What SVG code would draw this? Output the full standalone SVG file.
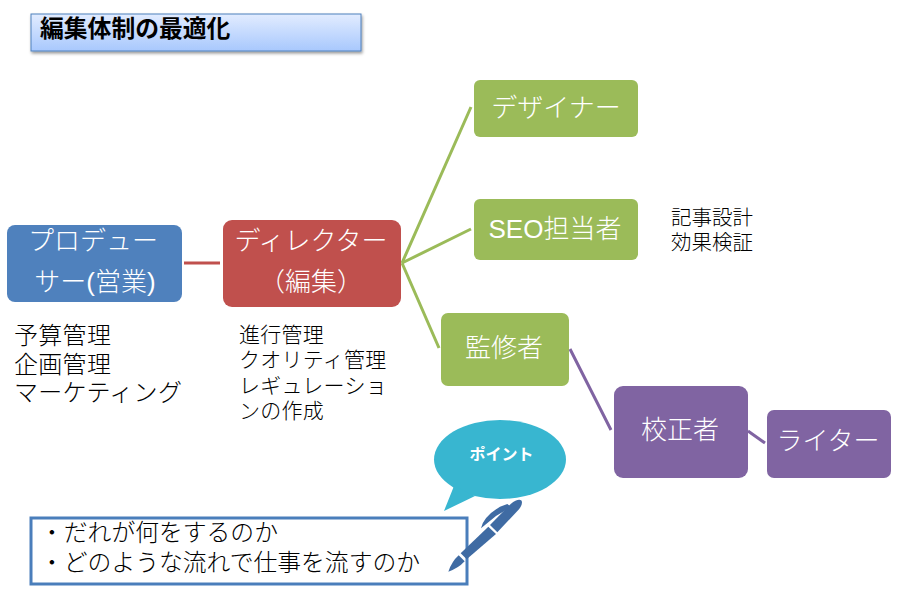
<svg xmlns="http://www.w3.org/2000/svg" width="911" height="593" viewBox="0 0 911 593">
<defs>
<linearGradient id="tg" x1="0" y1="0" x2="0" y2="1"><stop offset="0" stop-color="#e2ecff"/><stop offset="1" stop-color="#a8c8fd"/></linearGradient>
<filter id="sh" x="-5%" y="-20%" width="110%" height="150%"><feDropShadow dx="1" dy="2" stdDeviation="1.5" flood-color="#000" flood-opacity="0.4"/></filter>
</defs>
<style>
text{font-family:"Liberation Sans","Noto Sans CJK JP",sans-serif;fill:#000;font-weight:300}
.w{fill:#fff;font-size:26px;text-anchor:middle}
.s{font-size:21px;letter-spacing:.25px}
.m{font-size:24px;letter-spacing:.3px}
.n{font-size:23.800px}
.seo{font-size:20.500px}
.b{fill:#4f81bd}
.r{fill:#c0504d}
.g{fill:#9bbb59}
.p{fill:#8064a2}
.c{fill:none;stroke-width:3}
.pen{fill:#3f6ba3}
</style>
<rect width="911" height="593" fill="#fff"/>
<g id="title"><rect x="31" y="14" width="330" height="37" fill="url(#tg)" stroke="#4f81bd" filter="url(#sh)"/><text x="40" y="37" font-size="23.800" style="font-weight:bold">編集体制の最適化</text></g>
<g id="connectors">
<path class="c" stroke="#c0504d" d="M184 263H220"/>
<path class="c" stroke="#9bbb59" d="M402 263L471 107M402 263L471 229M402 263L439 348"/>
<path class="c" stroke="#8064a2" d="M570 349L611 430M748 431L765 443"/>
</g>
<g id="producer"><rect class="b" x="7" y="225" width="175" height="77" rx="8"/><text class="w" x="93" y="250">プロデュー</text><text class="w" x="95" y="291">サー(営業)</text></g>
<g id="director"><rect class="r" x="223" y="220" width="178" height="87" rx="9"/><text class="w" x="311" y="250">ディレクター</text><text class="w" x="311" y="291">（編集）</text></g>
<g id="designer"><rect class="g" x="474" y="80" width="164" height="57" rx="6"/><text class="w" x="556" y="117">デザイナー</text></g>
<g id="seo"><rect class="g" x="474" y="199" width="164" height="61" rx="6"/><text class="w" x="555" y="238">SEO担当者</text></g>
<g id="supervisor"><rect class="g" x="441" y="313" width="128" height="73" rx="7"/><text class="w" x="504" y="357">監修者</text></g>
<g id="proofreader"><rect class="p" x="614" y="386" width="134" height="92" rx="9"/><text class="w" x="680" y="439">校正者</text></g>
<g id="writer"><rect class="p" x="767" y="410" width="124" height="68" rx="7"/><text class="w" x="828" y="450">ライター</text></g>
<g id="seo-note"><text class="seo" x="671" y="225">記事設計</text><text class="seo" x="671" y="250">効果検証</text></g>
<g id="producer-note"><text class="m" x="14" y="344">予算管理</text><text class="m" x="14" y="373">企画管理</text><text class="m" x="14" y="401">マーケティング</text></g>
<g id="director-note"><text class="s" x="239" y="342">進行管理</text><text class="s" x="239" y="367">クオリティ管理</text><text class="s" x="239" y="393">レギュレーショ</text><text class="s" x="239" y="418">ンの作成</text></g>
<g id="callout"><ellipse cx="500" cy="459.500" rx="66" ry="39.500" fill="#38b6d0"/><path d="M454 486L444 511L475 496Z" fill="#38b6d0"/><text x="501.500" y="460" font-size="16" text-anchor="middle" style="fill:#fff;font-weight:bold">ポイント</text></g>
<g id="note"><rect x="31" y="518" width="436" height="66" fill="#fff" stroke="#4a7ebb" stroke-width="3"/><text class="n" x="40" y="541">・だれが何をするのか</text><text class="n" x="40" y="571">・どのような流れで仕事を流すのか</text></g>
<g id="pen" transform="translate(420 410) scale(0.3333)">
<path class="pen" d="M85 485Q95 455 116 436L134 454Q115 475 85 485Z"/>
<path class="pen" d="M122 430L205 350L228 372L140 448Z"/>
<path class="pen" d="M210 345L272 282Q295 264 305 272Q309 285 295 300L232 367Z"/>
<path class="pen" d="M183 355Q190 320 240 290L262 282L270 288L262 298L228 318Z"/>
</g>
</svg>
